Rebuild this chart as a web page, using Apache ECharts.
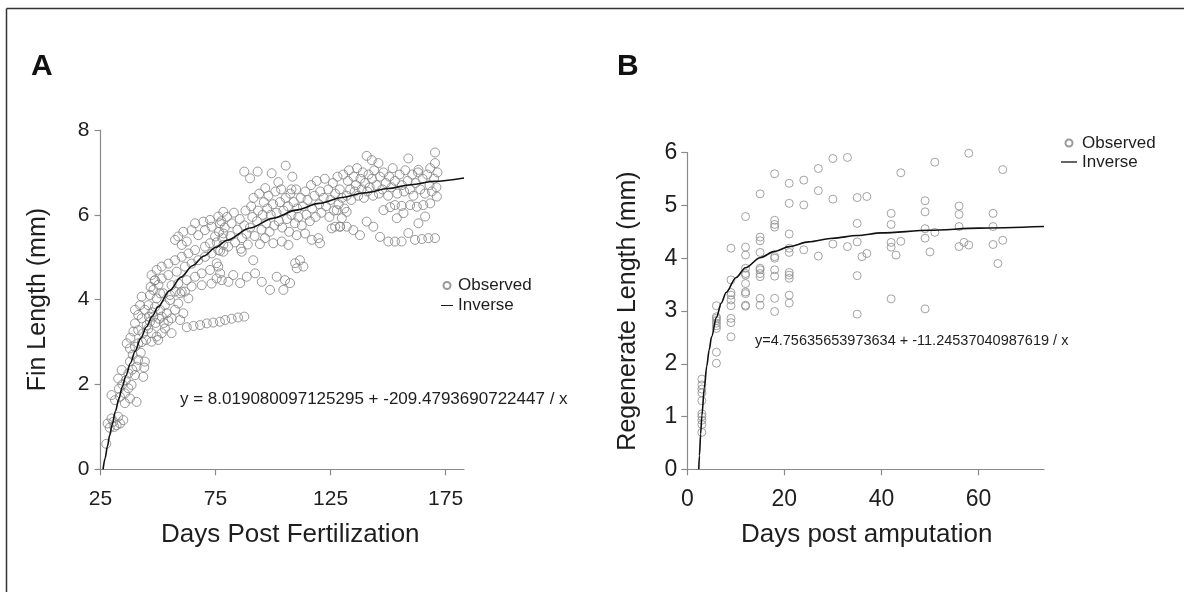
<!DOCTYPE html>
<html><head><meta charset="utf-8">
<script src="https://cdn.jsdelivr.net/npm/echarts@6/dist/echarts.min.js"></script>
<style>html,body{margin:0;padding:0;background:#fff}#c{width:1184px;height:592px}</style>
</head><body><div id="c"></div>
<script>
// Panel A: Fin length vs days post fertilization (observed points)
const finObserved = [
[27.5,0.6],[28.1,1.08],[29,0.98],[29.8,1.2],[30.6,1.12],[31,1.0],[32,1.04],[32.7,1.24],[33.5,1.08],[34.9,1.16],
[29.8,1.75],[31.3,1.63],[33.5,1.71],[35.6,1.79],[35.6,1.56],[37.8,1.67],[40.7,1.59],[37.1,1.91],[38.5,1.99],[33,1.9],
[32.7,2.14],[34.2,2.34],[34.5,2.0],[36,2.1],[37.1,2.26],[40,2.22],[43.6,2.18],[40.7,2.42],[44.3,2.54],[41.4,2.58],
[37.8,2.54],[38.8,2.35],[39,2.7],[42.5,2.75],[44,2.4],[36.4,2.97],[37.8,2.85],[40,2.89],[41.4,2.97],[43,3.0],
[44.8,3.05],[38,3.1],[39.3,3.25],[41.4,3.28],[43.6,3.21],[45.8,3.32],[47.2,3.21],[49.4,3.13],[51.6,3.21],[53,3.32],
[55.9,3.21],[50.1,3.05],[47.2,3.01],[42.2,3.87],[44.3,3.76],[45.8,3.87],[48.7,3.83],[50.9,3.76],[53,3.87],[53.8,3.68],
[51.6,3.6],[48,3.6],[46.5,3.48],[42.9,3.56],[45.1,3.4],[40,3.44],[41.4,3.64],[40,3.76],[46,3.6],[47.5,3.7],
[49,3.45],[50.5,3.55],[52.5,3.45],[54.5,3.5],[42.9,4.07],[46.5,4.11],[49.4,4.03],[52.3,4.15],[57.4,4.19],[59.6,4.15],
[61.7,4.19],[55.2,3.99],[58.8,3.91],[57.4,3.76],[61,3.68],[63.2,4.03],[46.8,4.3],[48.5,4.45],[50.2,4.35],
[55.9,3.56],[59.6,3.52],[62.5,3.35],[65.4,3.38],[68.3,3.4],[71.2,3.44],[74,3.46],[76.9,3.48],[79.2,3.52],[82,3.55],[84.8,3.58],[87.5,3.6],
[78.4,6.07],[76.2,5.96],[72.6,5.88],[69.7,5.84],[66.1,5.8],[64.6,5.64],[61,5.6],[58.8,5.49],[57.4,5.41],[60.3,5.29],
[62.5,5.37],[67.5,5.52],[70.4,5.64],[73.3,5.72],[76.9,5.8],[78.4,5.56],[74.8,5.49],[72.6,5.33],[70.4,5.25],[66.1,5.17],
[63.2,5.09],[60.3,5.01],[57.4,4.93],[54.5,4.85],[51.6,4.78],[49.4,4.7],[47.2,4.58],[48.7,4.46],[51.6,4.5],[54.5,4.58],
[58.1,4.66],[61.7,4.78],[64.6,4.85],[67.5,4.93],[70.4,5.01],[73.3,5.09],[76.2,5.17],[78.4,5.29],[55.9,4.34],[58.8,4.38],
[62.5,4.46],[66.1,4.54],[69,4.62],[72.6,4.7],[76.2,4.78],[48,4.23],[50.9,4.15],[55.2,4.11],[60.3,4.19],[64.6,4.31],
[69,4.34],[73.3,4.38],[77.7,4.46],
[75.5,5.35],[76.5,5.6],[77.5,5.85],[78,5.45],[79,5.7],[80,5.95],[80.5,5.25],[81.5,5.5],[82,5.8],[83,6.05],
[83.5,5.35],[84.5,5.65],[85.5,5.9],[86,5.2],[86.5,5.45],[87.5,5.75],[88,6.1],[88.5,5.55],[89,5.3],[77,5.15],
[90,5.7],[90.5,6.2],[91,5.95],[91.5,6.4],[92,5.5],[93,5.85],[93.5,6.1],[94,6.5],[95,5.65],[95.5,6.0],
[96,6.3],[97,5.8],[97.5,6.15],[98,6.45],[98.5,5.6],[99,6.0],[100,6.25],[100.5,5.75],[101,6.55],[101.5,6.05],
[102.5,5.85],[103,6.3],[103.5,6.6],[104,5.7],[104.5,6.1],[105.5,6.4],[106,5.9],[106.5,6.2],[107,5.6],[107.5,6.5],
[108,6.0],[109,6.3],[109.5,5.8],[110,6.6],[110.5,6.15],[111,5.95],[112,6.4],[112.5,5.75],[113,6.2],[114,6.55],
[114.5,6.0],[115,6.35],[116,5.85],[116.5,6.7],[117,6.15],[118,6.45],[118.5,5.95],[119,6.8],[120,6.25],[120.5,6.55],
[121,6.05],[122,6.4],[122.5,6.85],[123,6.2],[124,6.6],[124.5,5.95],[125,6.35],[126,6.75],[126.5,6.1],[127,6.5],
[128,6.9],[128.5,6.25],[129,6.6],[130,6.4],[130.5,6.95],[131,6.15],
[87.5,7.02],[93.3,7.02],[99.4,6.98],[105.5,7.16],[90,6.86],[102.3,6.77],[108.4,6.9],[96.6,6.63],[108,6.6],
[96.5,5.45],[100.1,5.33],[103.8,5.37],[106.7,5.29],[94.3,5.31],[116.8,5.41],[119.7,5.45],[120.4,5.33],[110.3,5.52],[113.9,5.56],
[125.5,5.68],[129.1,5.72],[91.4,4.93],[86.4,5.13],[78.4,5.13],[75.5,4.86],[77,4.62],[109.6,4.86],[111.7,4.93],[113.2,4.78],
[110.3,4.74],[82.7,4.58],[88.6,4.54],[92.2,4.62],[85.7,4.39],[80.6,4.42],[75.5,4.5],[95.1,4.42],[101.6,4.54],[105.2,4.46],
[98.7,4.23],[104.5,4.23],[107.4,4.39],
[132,6.45],[132.5,6.8],[133,7.05],[133.5,6.6],[134,6.35],[135,6.9],[135.5,6.55],[136,6.7],[136.5,7.1],[137,6.45],
[138,6.85],[138.5,6.6],[139,7.0],[139.5,6.4],[140,6.75],[141,6.55],[141.5,6.95],[142,6.65],[143,6.85],[143.5,6.45],
[144,7.05],[145,6.7],[146,6.5],[146.5,6.9],[147.5,6.6],[148,7.0],[149,6.75],[150,6.45],[150.5,6.9],[151.5,6.65],
[152,7.1],[153,6.8],[154,6.5],[155,6.95],[156,6.7],[157,6.55],[157.5,7.05],[158.5,6.8],[159.5,6.6],[160.5,6.95],
[161,6.45],[162,6.75],[163,7.0],[164,6.6],[165,6.85],[166,6.5],[167,6.95],[168,6.7],[169,6.55],[170,6.85],
[171,6.65],[171.5,7.0],
[140.7,7.39],[142.9,7.29],[145.8,7.22],[158.8,7.33],[170.4,7.47],[170.4,7.22],[168.3,7.1],[163.2,7.06],
[127.7,6.11],[129.9,5.92],[132,6.07],[129.1,5.72],[127,5.72],[132,5.72],[134.9,5.64],[137.8,5.52],[140.7,5.84],[143.6,5.72],
[148,6.11],[150.9,6.18],[153,6.23],[155.9,6.21],[159.6,6.23],[162.5,6.19],[165.3,6.23],[168.3,6.27],[171.2,6.43],[146.5,5.48],
[150.1,5.37],[153,5.37],[155.9,5.37],[158.8,5.57],[161.7,5.41],[164.7,5.43],[167.5,5.45],[170.4,5.45],[153.8,5.92],[156.7,6.04],
[163.2,5.8],[166.1,5.96]
];
// Panel A fitted inverse curve
const finFitted = [
[26.1,0],[27,0.26],[28,0.54],[29,0.8],[30,1.04],[31.5,1.37],[33,1.67],[34.5,1.95],[36,2.2],[38,2.5],
[40,2.78],[42.5,3.09],[45,3.36],[47.5,3.61],[50,3.83],[55,4.21],[60,4.53],[65,4.8],[70,5.03],[75,5.23],
[80,5.4],[90,5.69],[100,5.92],[110,6.11],[120,6.27],[130,6.41],[140,6.52],[150,6.62],[160,6.71],[170,6.79],[183,6.87]
];
const finXTicks = [25, 75, 125, 175];
const finYTicks = [0, 2, 4, 6, 8];

// Panel B: Regenerate length vs days post amputation
const regenObserved = [
[3,1.71],[3,1.6],[3,1.52],[3,1.45],[3,1.3],[3,1.05],[3,1.0],[3,0.93],[3,0.85],[3,0.7],
[6,3.1],[6,2.89],[6,2.86],[6,2.82],[6,2.77],[6,2.72],[6,2.67],[6,2.22],[6,2.01],
[9,4.19],[9,3.59],[9,3.35],[9,3.3],[9,3.21],[9,3.1],[9,2.86],[9,2.78],[9,2.51],
[12,4.79],[12,4.21],[12,4.06],[12,3.81],[12,3.71],[12,3.68],[12,3.52],[12,3.36],[12,3.33],[12,3.11],[12,3.09],
[15,5.22],[15,4.4],[15,4.33],[15,4.11],[15,3.81],[15,3.78],[15,3.71],[15,3.65],[15,3.24],[15,3.11],
[18,5.6],[18,4.72],[18,4.64],[18,4.59],[18,4.03],[18,4.0],[18,3.78],[18,3.66],[18,3.24],[18,2.99],
[21,5.42],[21,5.04],[21,4.46],[21,4.19],[21,4.11],[21,3.73],[21,3.68],[21,3.62],[21,3.3],[21,3.15],
[24,5.48],[24,5.01],[24,4.16],[27,5.7],[27,5.28],[27,4.04],[30,5.89],[30,5.12],[30,4.27],[33,5.91],[33,4.22],
[35,5.15],[35,4.66],[35,4.31],[35,3.67],[35,2.94],[36,4.03],[37,5.17],[37,4.09],
[42,4.85],[42,4.64],[42,4.3],[42,4.21],[42,3.23],[43,4.06],[44,5.62],[44,4.32],
[49,5.09],[49,4.88],[49,4.56],[49,4.38],[49,3.04],[50,4.12],[51,5.82],[51,4.49],
[56,4.99],[56,4.83],[56,4.6],[56,4.22],[57,4.3],[58,4.25],[58,5.99],
[63,4.85],[63,4.6],[63,4.26],[64,3.9],[65,5.68],[65,4.34]
];
const regenFitted = [
[2.36,0],[2.5,0.26],[2.75,0.67],[3,1.01],[3.5,1.54],[4,1.95],[4.5,2.26],[5,2.51],[6,2.88],[7,3.15],
[8,3.35],[10,3.63],[12,3.82],[15,4.01],[18,4.13],[21,4.22],[25,4.31],[30,4.38],[35,4.43],[40,4.48],
[50,4.53],[60,4.57],[73.5,4.6]
];
const regenXTicks = [0, 20, 40, 60];
const regenYTicks = [0, 1, 2, 3, 4, 5, 6];

const FONT = '"Liberation Sans", Arial, sans-serif';
const TXT = '#1e1e1e';
const AXC = '#8a8a8a';
const LINE_ICON = 'path://M0,0L20,0L20,1.6L0,1.6Z';

function mkX(idx, min, max, ticks, name, fs, pad) {
  return {
    type: 'value', gridIndex: idx, min: min, max: max,
    name: name, nameLocation: 'middle', nameGap: 53,
    nameTextStyle: {fontFamily: FONT, fontSize: 26, color: TXT, padding: pad},
    axisLine: {show: true, onZero: false, lineStyle: {color: AXC, width: 1.2}},
    axisTick: {show: true, length: 6, customValues: ticks, lineStyle: {color: AXC, width: 1.2}},
    axisLabel: {customValues: ticks, margin: 19, fontFamily: FONT, fontSize: fs, color: TXT},
    splitLine: {show: false}
  };
}
function mkY(idx, min, max, ticks, name, fs, gap, margin) {
  return {
    type: 'value', gridIndex: idx, min: min, max: max,
    name: name, nameLocation: 'middle', nameGap: gap, nameRotate: 90,
    nameTextStyle: {fontFamily: FONT, fontSize: 25, color: TXT},
    axisLine: {show: true, onZero: false, lineStyle: {color: AXC, width: 1.2}},
    axisTick: {show: true, length: 6, customValues: ticks, lineStyle: {color: AXC, width: 1.2}},
    axisLabel: {customValues: ticks, margin: margin, fontFamily: FONT, fontSize: fs, color: TXT},
    splitLine: {show: false}
  };
}
function legendData() {
  return [
    {name: 'Observed', icon: 'circle'},
    {name: 'Inverse', icon: LINE_ICON, itemStyle: {color: '#111', borderWidth: 0}}
  ];
}

const chart = echarts.init(document.getElementById('c'), null, {renderer: 'canvas'});
chart.setOption({
  animation: false,
  backgroundColor: '#fff',
  grid: [
    {left: 100.5, top: 130, width: 363.5, height: 339.3},
    {left: 687.3, top: 152.7, width: 356.7, height: 316.6}
  ],
  xAxis: [
    mkX(0, 25, 183, finXTicks, 'Days Post Fertilization', 21, [0, 0, 0, 16]),
    mkX(1, 0, 73.5, regenXTicks, 'Days post amputation', 23, [0, 0, 0, 2])
  ],
  yAxis: [
    mkY(0, 0, 8, finYTicks, 'Fin Length (mm)', 21, 50, 11),
    mkY(1, 0, 6, regenYTicks, 'Regenerate Length (mm)', 23, 47, 10)
  ],
  legend: [
    {orient: 'vertical', left: 441, top: 277, padding: 0, itemGap: 3, itemWidth: 12, itemHeight: 7,
     textStyle: {fontFamily: FONT, fontSize: 17, color: TXT}, data: legendData(), selectedMode: false},
    {orient: 'vertical', left: 1061, top: 134.5, padding: 0, itemGap: 2, itemWidth: 16, itemHeight: 7,
     textStyle: {fontFamily: FONT, fontSize: 17, color: TXT}, data: legendData(), selectedMode: false}
  ],
  series: [
    {name: 'Observed', type: 'scatter', xAxisIndex: 0, yAxisIndex: 0, data: finObserved,
     symbol: 'circle', symbolSize: 9, z: 2,
     itemStyle: {color: 'rgba(255,255,255,0)', borderColor: '#808080', borderWidth: 1},
     emphasis: {disabled: true}},
    {name: 'Inverse', type: 'line', xAxisIndex: 0, yAxisIndex: 0, data: finFitted,
     symbol: 'none', smooth: 0.3, smoothMonotone: 'x', z: 5,
     itemStyle: {color: '#111'},
     lineStyle: {color: '#111', width: 1.6}, emphasis: {disabled: true}},
    {name: 'Observed', type: 'scatter', xAxisIndex: 1, yAxisIndex: 1, data: regenObserved,
     symbol: 'circle', symbolSize: 8, z: 2,
     itemStyle: {color: 'rgba(255,255,255,0)', borderColor: '#8c8c8c', borderWidth: 1},
     emphasis: {disabled: true}},
    {name: 'Inverse', type: 'line', xAxisIndex: 1, yAxisIndex: 1, data: regenFitted,
     symbol: 'none', smooth: 0.3, smoothMonotone: 'x', z: 5,
     itemStyle: {color: '#111'},
     lineStyle: {color: '#111', width: 1.6}, emphasis: {disabled: true}}
  ],
  graphic: [
    {type: 'line', shape: {x1: 6.5, y1: 8.5, x2: 1184, y2: 8.5}, style: {stroke: '#333', lineWidth: 1.5}},
    {type: 'line', shape: {x1: 6.5, y1: 8.5, x2: 6.5, y2: 592}, style: {stroke: '#333', lineWidth: 1.5}},
    {type: 'text', x: 31, y: 52, style: {text: 'A', font: 'bold 30px ' + FONT, fill: '#111', verticalAlign: 'top'}},
    {type: 'text', x: 617, y: 52, style: {text: 'B', font: 'bold 30px ' + FONT, fill: '#111', verticalAlign: 'top'}},
    {type: 'text', x: 180, y: 399, style: {text: 'y = 8.019080097125295 + -209.4793690722447 / x', font: '17px ' + FONT, fill: TXT, verticalAlign: 'middle'}},
    {type: 'text', x: 755, y: 341, style: {text: 'y=4.75635653973634 + -11.24537040987619 / x', font: '14.5px ' + FONT, fill: TXT, verticalAlign: 'middle'}}
  ]
});
</script>
</body></html>
